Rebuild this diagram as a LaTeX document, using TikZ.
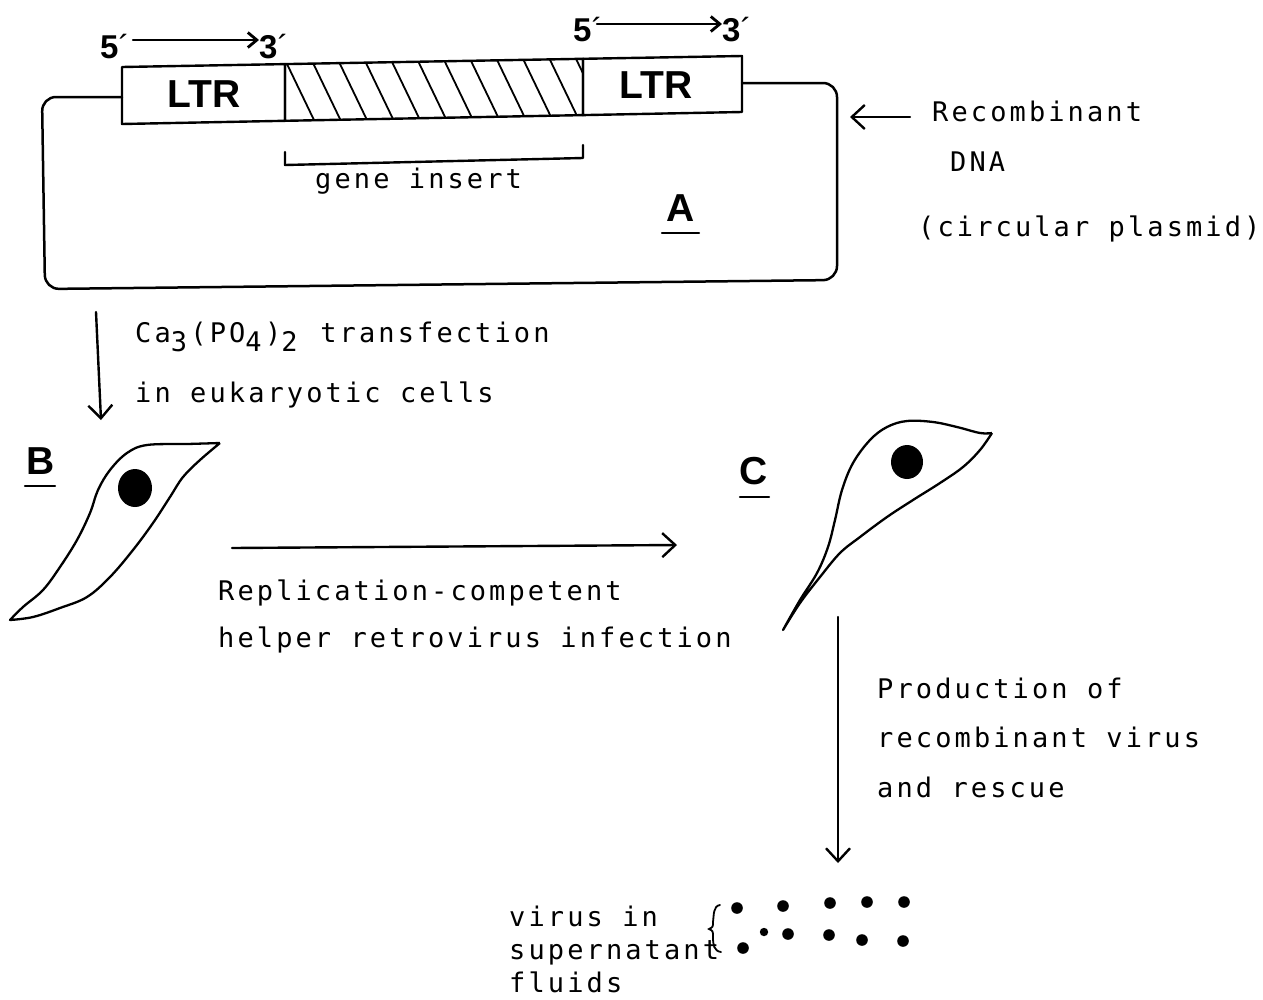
\documentclass[tikz,border=0pt]{standalone}
\usepackage{fontspec}
\setmainfont{Liberation Sans}
\newfontfamily\tw{DejaVu Sans Mono}[LetterSpace=11.5]
\usetikzlibrary{arrows.meta}
% lowered digit that keeps the monospaced advance
\newcommand\lowdigit[1]{\raisebox{-9pt}{#1}\kern3.4pt\relax}

\begin{document}
\begin{tikzpicture}[x=1pt,y=-1pt,
  ln/.style={line width=2.4pt, line join=round, line cap=round},
  arr/.style={ln, -{Straight Barb[length=13pt,width=24pt,line width=2.4pt]}},
  sarr/.style={ln, -{Straight Barb[length=9pt,width=15pt,line width=2.8pt]}},
  mono/.style={inner sep=0pt, anchor=base west, font=\tw\fontsize{27}{27}\selectfont},
  lbl/.style={inner sep=0pt, font=\bfseries\fontsize{39}{39}\selectfont},
  end/.style={inner sep=0pt, anchor=base west, font=\bfseries\fontsize{33}{33}\selectfont},
  cell/.style={line width=2.3pt, line join=round},
  hatch/.style={line width=1.8pt}]
\useasboundingbox (0,0) rectangle (1263,999);

% ---- 5' -> 3' orientation marks
\node[end] (fiveL) at (100,58) {5\mdseries´};
\node[end] (threeL) at (259,58) {3\mdseries´};
\coordinate (aLs) at (133,40);
\coordinate (aLe) at (259,40);
\draw[sarr] (aLs) -- (aLe);
\node[end] (fiveR) at (573,41) {5\mdseries´};
\node[end] (threeR) at (722,41) {3\mdseries´};
\coordinate (aRs) at (597,24);
\coordinate (aRe) at (722,24);
\draw[sarr] (aRs) -- (aRe);

% ---- LTR / insert / LTR strip
\draw[ln] (122,67) -- (285,64.1) -- (285,120.8) -- (122,124) -- cycle;
\draw[ln] (285,64.1) -- (583,58.8) -- (583,115.1) -- (285,120.8) -- cycle;
\draw[ln] (583,58.8) -- (742,56) -- (742,112) -- (583,115.1) -- cycle;
\begin{scope}
  \clip (285,64.1) -- (583,58.8) -- (583,115.1) -- (285,120.8) -- cycle;
  \foreach \i in {0,...,11} {
    \pgfmathsetmacro\xx{287+26.5*\i}
    \draw[hatch] (\xx-6.75,50) -- (\xx+31.8,130);
  }
\end{scope}
\node[lbl] (ltrL) at (204,94.5) {LTR};
\node[lbl] (ltrR) at (656,85.5) {LTR};

% ---- plasmid backbone
\draw[ln, line width=2.5pt, rounded corners=14pt]
  (122,97) -- (42,97) -- (45,289) -- (837,280) -- (837,83) -- (742,83);

% ---- gene insert bracket
\draw[ln] (285,152) -- (285,165) -- (583,158) -- (583,145);
\node[mono] (gene) at (315,188) {gene insert};

% ---- label A
\node[lbl] (labA) at (681,208) {A};
\draw[ln] (662,233) -- (699,233);

% ---- recombinant DNA note
\coordinate (rs) at (910,117);
\coordinate (re) at (850,117);
\draw[arr] (rs) -- (re);
\node[mono] (rec1) at (932,121) {Recombinant};
\node[mono] (rec2) at (950,171) {DNA};
\node[mono] (rec3) at (918,236) {(circular plasmid)};

% ---- transfection step
\coordinate (t1s) at (96,312);
\coordinate (t1e) at (101,420);
\draw[arr] (t1s) -- (t1e);
\node[mono] (tr1) at (135,342)
  {Ca\lowdigit{3}(PO\lowdigit{4})\lowdigit{2} transfection};
\node[mono] (tr2) at (135,402) {in eukaryotic cells};

% ---- cell B
\node[lbl] (labB) at (41,461.5) {B};
\draw[ln] (25,486) -- (55,486);
\draw[cell] plot[smooth, tension=0.6] coordinates {
    (220,443) (187,444) (147,445) (127,453) (110,470) (98,490) (90,513)
    (77,540) (60,567) (43,590) (23,607) (10,620)}
  -- plot[smooth, tension=0.6] coordinates {
    (10,620) (33,617) (60,608) (87,597) (110,577) (133,550) (153,523)
    (170,497) (183,477) (200,460) (220,443)};
\fill (135,488) ellipse [x radius=17, y radius=19];

% ---- infection step
\coordinate (hs) at (232,548);
\coordinate (he) at (677,545);
\draw[arr] (hs) -- (he);
\node[mono] (inf1) at (218,600) {Replication-competent};
\node[mono] (inf2) at (218,647) {helper retrovirus infection};

% ---- cell C
\node[lbl] (labC) at (754,471.5) {C};
\draw[ln] (740,497) -- (769,497);
\draw[cell] plot[smooth, tension=0.6] coordinates {
    (992,433) (980,433) (957,427) (933,422) (907,421) (887,427) (870,440)
    (853,463) (842,490) (835,520) (828,547) (817,573) (800,600) (783,630)}
  -- plot[smooth, tension=0.6] coordinates {
    (783,630) (800,603) (820,577) (840,553) (860,537) (887,517) (913,500)
    (940,483) (963,467) (980,450) (992,433)};
\fill (907,462) ellipse [x radius=16, y radius=17];

% ---- rescue step
\coordinate (ps) at (838,617);
\coordinate (pe) at (838,863);
\draw[arr] (ps) -- (pe);
\node[mono] (pr1) at (877,698) {Production of};
\node[mono] (pr2) at (877,747) {recombinant virus};
\node[mono] (pr3) at (877,797) {and rescue};

% ---- released virus
\node[mono] (v1) at (509,926) {virus in};
\node[mono] (v2) at (509,959) {supernatant};
\node[mono] (v3) at (509,992) {fluids};
\draw[line width=1.8pt, line cap=round]
  (720,905) .. controls (713,906) and (714,915) .. (713,922)
  .. controls (713,927) .. (709,929)
  .. controls (713,931) .. (713,937)
  .. controls (713,945) and (714,951) .. (721,952);
\foreach \p in {(737,908),(783,906),(830,903),(867,902),(904,902),
                (788,934),(829,935),(862,940),(903,941),(743,948)}
  \fill \p circle (5.8);
\fill (764,932) circle (4.2);

\end{tikzpicture}
\end{document}
